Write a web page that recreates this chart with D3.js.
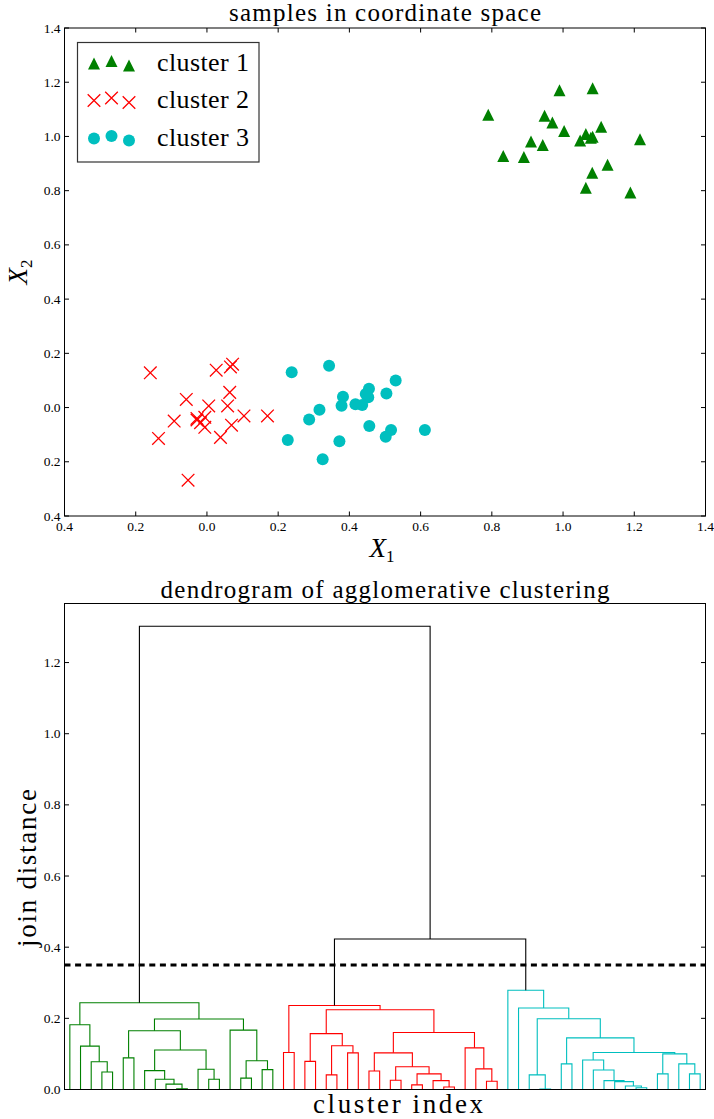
<!DOCTYPE html>
<html><head><meta charset="utf-8">
<script src="https://cdn.jsdelivr.net/npm/d3@7"></script>
<style>
body{margin:0;background:#fff}
svg{display:block}
text{font-family:"Liberation Serif","Times New Roman",serif;fill:#000}
</style>
</head><body>
<svg id="chart" width="714" height="1119"></svg>
<script>
// ---------- data: scatter ----------
const cluster1 = [[0.79,1.08],[0.99,1.17],[1.083,1.178],[0.948,1.076],[0.970,1.051],[1.003,1.020],[1.107,1.036],[1.064,1.009],[1.083,0.999],[1.078,0.995],[1.048,0.985],[1.216,0.990],[0.910,0.981],[0.943,0.968],[0.832,0.928],[0.890,0.924],[1.125,0.896],[1.082,0.866],[1.064,0.811],[1.189,0.793]];
const cluster2 = [[-0.159,0.128],[0.026,0.138],[0.066,0.150],[0.072,0.160],[-0.058,0.030],[0.064,0.056],[0.005,0.006],[0.058,0.006],[0.104,-0.031],[0.170,-0.031],[-0.092,-0.050],[-0.028,-0.046],[-0.028,-0.040],[-0.018,-0.056],[-0.006,-0.036],[-0.006,-0.073],[0.069,-0.065],[0.038,-0.110],[-0.136,-0.114],[-0.053,-0.268]];
const cluster3 = [[0.238,0.130],[0.343,0.154],[0.530,0.100],[0.455,0.069],[0.382,0.040],[0.453,0.038],[0.504,0.052],[0.446,0.050],[0.378,0.007],[0.417,0.012],[0.436,0.009],[0.316,-0.008],[0.287,-0.044],[0.456,-0.068],[0.517,-0.083],[0.502,-0.108],[0.612,-0.083],[0.227,-0.120],[0.372,-0.124],[0.325,-0.191]];
const legendLabels = ["cluster 1","cluster 2","cluster 3"];
const scatterTicks = [-0.4,-0.2,0.0,0.2,0.4,0.6,0.8,1.0,1.2,1.4];
const scatterTickLabels = ["0.4","0.2","0.0","0.2","0.4","0.6","0.8","1.0","1.2","1.4"];

// ---------- data: dendrogram (leaves 0..59 in display order; merge k has id 60+k) ----------
const nLeaves = 60;
const merges = [
  // green
  [3,4,0.049,"g"],[2,60,0.078,"g"],[1,61,0.122,"g"],[0,62,0.182,"g"],[5,6,0.089,"g"],
  [10,11,0.002,"g"],[9,65,0.015,"g"],[8,66,0.029,"g"],[7,67,0.053,"g"],[13,14,0.029,"g"],
  [12,69,0.057,"g"],[68,70,0.111,"g"],[64,71,0.165,"g"],[16,17,0.032,"g"],[18,19,0.056,"g"],
  [73,74,0.081,"g"],[15,75,0.167,"g"],[72,76,0.198,"g"],[63,77,0.244,"g"],
  // red
  [20,21,0.104,"r"],[22,23,0.079,"r"],[24,25,0.041,"r"],[26,27,0.103,"r"],[81,82,0.123,"r"],
  [80,83,0.157,"r"],[28,29,0.052,"r"],[30,31,0.026,"r"],[32,33,0.013,"r"],[35,36,0.007,"r"],
  [34,88,0.025,"r"],[87,89,0.044,"r"],[86,90,0.064,"r"],[85,91,0.103,"r"],[39,40,0.023,"r"],
  [38,93,0.058,"r"],[37,94,0.117,"r"],[92,95,0.160,"r"],[84,96,0.224,"r"],[79,97,0.236,"r"],
  // cyan
  [44,45,0.001,"c"],[43,99,0.041,"c"],[46,47,0.072,"c"],[53,54,0.005,"c"],[52,102,0.010,"c"],
  [51,103,0.022,"c"],[50,104,0.025,"c"],[49,105,0.055,"c"],[48,106,0.083,"c"],[55,56,0.044,"c"],
  [58,59,0.044,"c"],[57,109,0.072,"c"],[108,110,0.100,"c"],[107,111,0.104,"c"],[101,112,0.145,"c"],
  [100,113,0.199,"c"],[42,114,0.229,"c"],[41,115,0.279,"c"],
  // above threshold
  [98,116,0.423,"k"],[78,117,1.302,"k"]
];
const cutHeight = 0.35;
const dendroTicks = [0.0,0.2,0.4,0.6,0.8,1.0,1.2];
const dendroTickLabels = ["0.0","0.2","0.4","0.6","0.8","1.0","1.2"];

// ---------- styles ----------
const colors = {g:"#008000", r:"#ff0000", c:"#00bfbf", k:"#000000"};
const svg = d3.select("#chart");
const tickLen = 4.5;

// ===== top scatter =====
const L = 64.5, R = 705.5, T1 = 28, B1 = 516;
const x1 = d3.scaleLinear([-0.4,1.4],[L,R]);
const y1 = d3.scaleLinear([-0.4,1.4],[B1,T1]);
const g1 = svg.append("g");

const tri = s => `M0,${-s}L${s},${s}L${-s},${s}Z`;
const cross = s => `M${-s},${-s}L${s},${s}M${-s},${s}L${s},${-s}`;

g1.selectAll("path.c1").data(cluster1).join("path").attr("class","c1")
  .attr("d", tri(6)).attr("transform", d=>`translate(${x1(d[0])},${y1(d[1])})`)
  .attr("fill", colors.g);
g1.selectAll("path.c2").data(cluster2).join("path").attr("class","c2")
  .attr("d", cross(6.3)).attr("transform", d=>`translate(${x1(d[0])},${y1(d[1])})`)
  .attr("fill","none").attr("stroke", colors.r).attr("stroke-width",1.3);
g1.selectAll("circle.c3").data(cluster3).join("circle").attr("class","c3")
  .attr("cx", d=>x1(d[0])).attr("cy", d=>y1(d[1])).attr("r",6)
  .attr("fill", colors.c);

// frame
g1.append("rect").attr("x",L).attr("y",T1).attr("width",R-L).attr("height",B1-T1)
  .attr("fill","none").attr("stroke","#000").attr("stroke-width",1);
// ticks all sides inward
scatterTicks.forEach((v,i)=>{
  const xp = x1(v), yp = y1(v);
  g1.append("line").attr("x1",xp).attr("x2",xp).attr("y1",B1).attr("y2",B1-tickLen).attr("stroke","#000");
  g1.append("line").attr("x1",xp).attr("x2",xp).attr("y1",T1).attr("y2",T1+tickLen).attr("stroke","#000");
  g1.append("line").attr("y1",yp).attr("y2",yp).attr("x1",L).attr("x2",L+tickLen).attr("stroke","#000");
  g1.append("line").attr("y1",yp).attr("y2",yp).attr("x1",R).attr("x2",R-tickLen).attr("stroke","#000");
  g1.append("text").attr("x",xp).attr("y",B1+15).attr("text-anchor","middle")
    .attr("font-size",13.5).text(scatterTickLabels[i]);
  g1.append("text").attr("x",L-4).attr("y",yp+4.5).attr("text-anchor","end")
    .attr("font-size",13.5).text(scatterTickLabels[i]);
});
g1.append("text").attr("x",(L+R)/2).attr("y",21).attr("text-anchor","middle")
  .attr("font-size",25).attr("textLength",312).attr("lengthAdjust","spacing")
  .text("samples in coordinate space");
// axis labels X1, X2
const xl = g1.append("text").attr("x",(L+R)/2-3).attr("y",557).attr("text-anchor","middle").attr("font-size",27);
xl.append("tspan").attr("font-style","italic").text("X");
xl.append("tspan").attr("font-size",17).attr("dy",5).text("1");
const yl = g1.append("text").attr("transform",`translate(27,${(T1+B1)/2}) rotate(-90)`).attr("text-anchor","middle").attr("font-size",27);
yl.append("tspan").attr("font-style","italic").text("X");
yl.append("tspan").attr("font-size",17).attr("dy",5).text("2");

// legend
const lg = g1.append("g");
lg.append("rect").attr("x",77.5).attr("y",42.5).attr("width",181.5).attr("height",119.5)
  .attr("fill","#fff").attr("stroke","#333").attr("stroke-width",1.2);
const legOffsets = [0.5,-2,2.5];
const legX = [94,111.5,129];
const rowY = [63,100,138];
legX.forEach((lx,i)=>{
  lg.append("path").attr("d",tri(6)).attr("transform",`translate(${lx},${rowY[0]+legOffsets[i]})`).attr("fill",colors.g);
  lg.append("path").attr("d",cross(6.3)).attr("transform",`translate(${lx},${rowY[1]+legOffsets[i]})`)
    .attr("fill","none").attr("stroke",colors.r).attr("stroke-width",1.3);
  lg.append("circle").attr("cx",lx).attr("cy",rowY[2]+legOffsets[i]).attr("r",6).attr("fill",colors.c);
});
legendLabels.forEach((t,i)=>{
  lg.append("text").attr("x",157).attr("y",rowY[i]+8).attr("font-size",26)
    .attr("textLength",92).attr("lengthAdjust","spacing").text(t);
});

// ===== dendrogram =====
const T2 = 603.5, B2 = 1089.5;
const x2 = d3.scaleLinear([0,nLeaves*10],[L,R]);
const y2 = d3.scaleLinear([0,1.366],[B2,T2]);
const g2 = svg.append("g");
const nodeX = [], nodeH = [];
for (let i=0;i<nLeaves;i++){ nodeX[i] = 5 + 10*i; nodeH[i] = 0; }
merges.forEach((m,k)=>{
  const id = nLeaves + k;
  nodeX[id] = (nodeX[m[0]] + nodeX[m[1]])/2;
  nodeH[id] = m[2];
});
g2.selectAll("path.link").data(merges).join("path").attr("class","link")
  .attr("d", m => {
    const a=m[0], b=m[1];
    return `M${x2(nodeX[a])},${y2(nodeH[a])}V${y2(m[2])}H${x2(nodeX[b])}V${y2(nodeH[b])}`;
  })
  .attr("fill","none").attr("stroke", m=>colors[m[3]]).attr("stroke-width",1.1);

// cut line
g2.append("line").attr("x1",L).attr("x2",R).attr("y1",y2(cutHeight)).attr("y2",y2(cutHeight))
  .attr("stroke","#000").attr("stroke-width",3).attr("stroke-dasharray","6,4.6");

g2.append("rect").attr("x",L).attr("y",T2).attr("width",R-L).attr("height",B2-T2)
  .attr("fill","none").attr("stroke","#000").attr("stroke-width",1);
dendroTicks.forEach((v,i)=>{
  const yp = y2(v);
  g2.append("line").attr("y1",yp).attr("y2",yp).attr("x1",L).attr("x2",L+tickLen).attr("stroke","#000");
  g2.append("line").attr("y1",yp).attr("y2",yp).attr("x1",R).attr("x2",R-tickLen).attr("stroke","#000");
  g2.append("text").attr("x",L-4).attr("y",yp+4.5).attr("text-anchor","end")
    .attr("font-size",13.5).text(dendroTickLabels[i]);
});
g2.append("text").attr("x",(L+R)/2).attr("y",598).attr("text-anchor","middle")
  .attr("font-size",25).attr("textLength",449).attr("lengthAdjust","spacing")
  .text("dendrogram of agglomerative clustering");
g2.append("text").attr("x",398).attr("y",1113).attr("text-anchor","middle")
  .attr("font-size",27).attr("textLength",170).attr("lengthAdjust","spacing")
  .text("cluster index");
g2.append("text").attr("transform",`translate(36,868) rotate(-90)`).attr("text-anchor","middle")
  .attr("font-size",27).attr("textLength",158).attr("lengthAdjust","spacing")
  .text("join distance");
</script>
</body></html>
